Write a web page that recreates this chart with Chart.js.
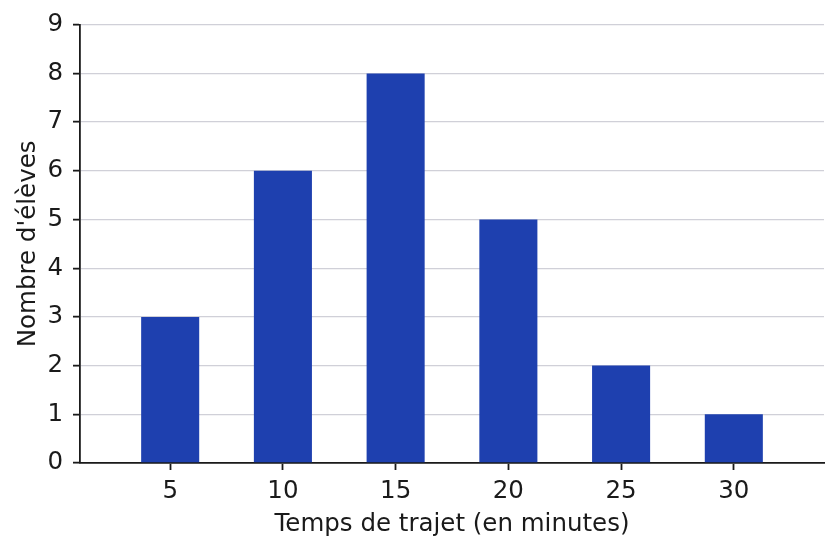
<!DOCTYPE html>
<html>
<head>
<meta charset="utf-8">
<script src="https://cdn.jsdelivr.net/npm/chart.js@4.4.0/dist/chart.umd.min.js"></script>
<style>
  html, body { margin: 0; padding: 0; background: #fff; }
  #wrap { width: 838px; height: 551px; }
</style>
</head>
<body>
<div id="wrap"><canvas id="chart"></canvas></div>
<script>
// temps de trajet (minutes) et nombre d'élèves
const categories = [5, 10, 15, 20, 25, 30];
const values = [3, 6, 8, 5, 2, 1];
const yTicks = [0, 1, 2, 3, 4, 5, 6, 7, 8, 9];

const ink = '#1a1a1a';
const font = { family: 'DejaVu Sans', size: 24.5 };

Chart.defaults.font.family = 'DejaVu Sans';
Chart.defaults.color = ink;

const ctx = document.getElementById('chart').getContext('2d');
new Chart(ctx, {
  type: 'bar',
  data: {
    datasets: [{
      data: categories.map(function(c, i) { return { x: c, y: values[i] }; }),
      backgroundColor: '#1e40af',
      borderWidth: 0,
      barPercentage: 0.515,
      categoryPercentage: 1
    }]
  },
  options: {
    responsive: true,
    maintainAspectRatio: false,
    animation: false,
    layout: { padding: { top: 23, right: 14, left: 0, bottom: 0 } },
    plugins: { legend: { display: false }, tooltip: { enabled: false } },
    scales: {
      x: {
        type: 'linear',
        min: 1,
        max: 34,
        offset: false,
        afterBuildTicks: function(scale) {
          scale.ticks = categories.map(function(v) { return { value: v }; });
        },
        afterFit: function(scale) { scale.height = 88; },
        grid: { display: true, offset: false, drawOnChartArea: false, drawTicks: true, tickLength: 7, tickWidth: 1.8, tickColor: ink, color: ink },
        border: { display: true, color: ink, width: 1.8 },
        ticks: { font: font, color: ink, padding: 7, maxRotation: 0 },
        title: { display: true, text: 'Temps de trajet (en minutes)', font: font, color: ink, padding: { top: 4, bottom: 12 } }
      },
      y: {
        min: 0,
        max: 9,
        afterBuildTicks: function(scale) {
          scale.ticks = yTicks.map(function(v) { return { value: v }; });
        },
        afterFit: function(scale) { scale.width = 80; },
        grid: { color: '#d0d0d8', lineWidth: 1.3, drawTicks: true, tickLength: 7, tickWidth: 1.8, tickColor: ink },
        border: { display: true, color: ink, width: 1.8 },
        ticks: { font: font, color: ink, padding: 10 },
        title: { display: true, text: "Nombre d'élèves", font: font, color: ink, padding: { top: 14, bottom: 4 } }
      }
    }
  }
});
</script>
</body>
</html>
